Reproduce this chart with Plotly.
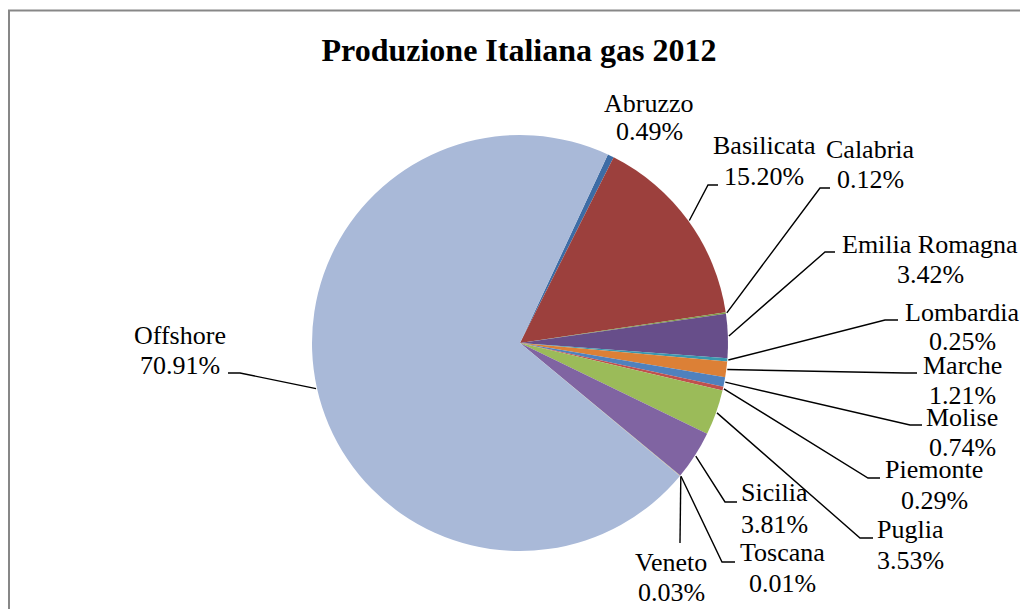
import math
import plotly.graph_objects as go

# Gas production share by region, 2012 (%)
regions = ["Abruzzo", "Basilicata", "Calabria", "Emilia Romagna", "Lombardia",
           "Marche", "Molise", "Piemonte", "Puglia", "Sicilia", "Toscana",
           "Veneto", "Offshore"]
shares = [0.49, 15.20, 0.12, 3.42, 0.25, 1.21, 0.74, 0.29, 3.53, 3.81, 0.01,
          0.03, 70.91]
slice_colors = ["#3D6CA5", "#9C403D", "#7E9A45", "#674E8A", "#3A97AE",
                "#DC8036", "#4F81BD", "#C0504D", "#9BBB59", "#8064A2",
                "#4BACC6", "#F79646", "#A9B9D8"]

W, H = 1020, 609
CX, CY, R = 520, 343, 208          # pie centre and radius in pixels
START_ANGLE = 25                    # first slice starts 25 deg clockwise from 12 o'clock
FONT = "Liberation Serif"
LABEL_SIZE = 26

# label placement: centre x, baseline of name line, baseline of value line
label_xy = {
    "Abruzzo": (649, 111, 139),
    "Basilicata": (764, 153, 184),
    "Calabria": (870, 157, 187),
    "Emilia Romagna": (930, 252, 282),
    "Lombardia": (962, 320, 349),
    "Marche": (962, 373, 403),
    "Molise": (962, 425, 455),
    "Piemonte": (934, 477, 508),
    "Puglia": (910, 537, 568),
    "Sicilia": (774, 500, 532),
    "Toscana": (782, 560, 591),
    "Veneto": (671, 570, 600),
    "Offshore": (180, 343, 373),
}
# leader lines: elbow point (x, y) and end x of the short horizontal run
leader = {
    "Basilicata": (708, 185, 718),
    "Calabria": (820, 188, 830),
    "Emilia Romagna": (825, 252, 835),
    "Lombardia": (885, 320, 898),
    "Marche": (905, 373, 917),
    "Molise": (910, 425, 922),
    "Piemonte": (868, 478, 880),
    "Puglia": (860, 538, 873),
    "Sicilia": (725, 502, 737),
    "Toscana": (722, 562, 735),
    "Veneto": (680, 543, 680),
    "Offshore": (240, 373, 228),
}


def px(x):
    return x / W


def py(y):
    return 1 - y / H


fig = go.Figure(go.Pie(
    labels=regions,
    values=shares,
    sort=False,
    direction="clockwise",
    rotation=START_ANGLE,
    marker=dict(colors=slice_colors, line=dict(width=0)),
    textinfo="none",
    hoverinfo="label+percent",
    showlegend=False,
    domain=dict(x=[px(CX - R), px(CX + R)], y=[py(CY + R), py(CY - R)]),
))

total = sum(shares)
shapes = []
annotations = []
cum = 0.0
for name, val in zip(regions, shares):
    mid = START_ANGLE + (cum + val / 2) / total * 360
    cum += val
    a = math.radians(mid)
    ax = CX + (R + 1) * math.sin(a)
    ay = CY - (R + 1) * math.cos(a)
    if name in leader:
        ex, ey, hx = leader[name]
        path = f"M {px(ax)} {py(ay)} L {px(ex)} {py(ey)} L {px(hx)} {py(ey)}"
        shapes.append(dict(type="path", xref="paper", yref="paper", path=path,
                           line=dict(color="black", width=1.4)))
    lx, b1, b2 = label_xy[name]
    for txt, base in ((name, b1), (f"{val:.2f}%", b2)):
        annotations.append(dict(
            text=txt, x=px(lx), y=py(base - 0.3 * LABEL_SIZE),
            xref="paper", yref="paper", xanchor="center", yanchor="middle",
            showarrow=False, font=dict(family=FONT, size=LABEL_SIZE, color="black"),
        ))

# chart frame (left and top edges)
shapes.append(dict(type="path", xref="paper", yref="paper",
                   path=f"M {px(9)} {py(H + 5)} L {px(9)} {py(10.5)} L {px(W + 5)} {py(10.5)}",
                   line=dict(color="#878787", width=2)))

fig.update_layout(
    width=W, height=H,
    margin=dict(l=0, r=0, t=0, b=0),
    paper_bgcolor="white",
    plot_bgcolor="white",
    title=dict(text="<b>Produzione Italiana gas 2012</b>",
               x=px(519), y=py(50), xanchor="center", yanchor="middle",
               xref="paper", yref="paper",
               font=dict(family=FONT, size=32, color="black")),
    shapes=shapes,
    annotations=annotations,
)

fig.write_html("out.html")
